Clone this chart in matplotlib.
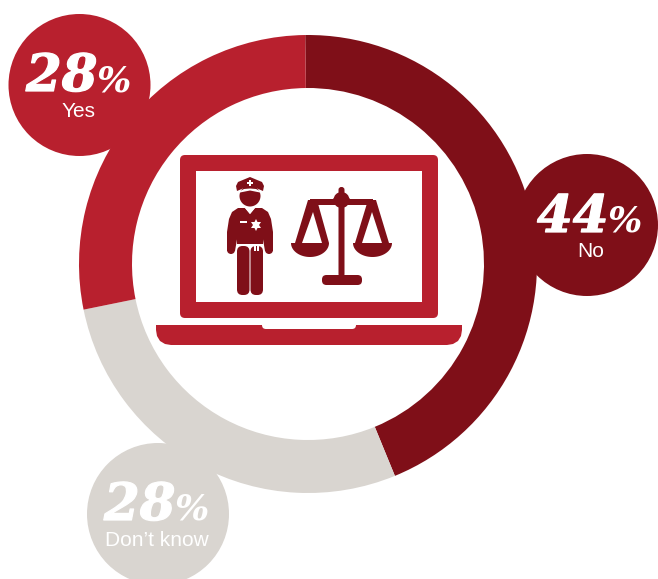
import numpy as np
import matplotlib
matplotlib.use("Agg")
import matplotlib.pyplot as plt
import matplotlib.patheffects as pe
from matplotlib.patches import Circle, FancyBboxPatch, Polygon, Rectangle

# данные
labels = ["No", "Don\u2019t know", "Yes"]
values = [44, 28, 28]
pct_text = ["44", "28", "28"]

RED = "#b8202e"
DARK = "#7f0f18"
GREY = "#d9d5d0"
colors = [DARK, GREY, RED]

# центры кружков с подписями (пиксели картинки)
bubble_xy = [(587, 225), (158, 514), (79.5, 85)]
num_xy = [(537, 232), (104, 520), (26, 91)]
lab_xy = [(591, 257), (157, 546), (79, 117)]

fig = plt.figure(figsize=(6.58, 5.79), dpi=100)
ax = fig.add_axes([0, 0, 1, 1])

# ось y вниз, поэтому counterclock=True даёт обход по часовой на экране
ax.pie(values, colors=colors, center=(308, 264), radius=229, startangle=-90.7,
       counterclock=True, wedgeprops=dict(width=53, linewidth=0))
ax.set_xlim(0, 658)
ax.set_ylim(579, 0)
ax.set_aspect("equal")
ax.axis("off")

# обводка делает цифры потяжелее, как в оригинале
heavy = [pe.withStroke(linewidth=0.9, foreground="white")]
for i in range(3):
    ax.add_patch(Circle(bubble_xy[i], 71, color=colors[i], lw=0, zorder=3))
    ax.text(num_xy[i][0], num_xy[i][1], pct_text[i], color="white", family="DejaVu Serif",
            weight="bold", style="italic", fontsize=37, ha="left", va="baseline", zorder=4,
            path_effects=heavy)
    ax.text(num_xy[i][0] + 71, num_xy[i][1], "%", color="white", family="DejaVu Serif",
            weight="bold", style="italic", fontsize=26, ha="left", va="baseline", zorder=4)
    ax.text(lab_xy[i][0], lab_xy[i][1], labels[i], color="white", family="Liberation Sans",
            fontsize=15, ha="center", va="baseline", zorder=4)


def box(x0, y0, x1, y1, color, r=0, z=6):
    if r:
        ax.add_patch(FancyBboxPatch((x0 + r, y0 + r), x1 - x0 - 2 * r, y1 - y0 - 2 * r,
                                    boxstyle=f"round,pad={r},rounding_size={r}",
                                    fc=color, ec="none", zorder=z))
    else:
        ax.add_patch(Rectangle((x0, y0), x1 - x0, y1 - y0, fc=color, ec="none", zorder=z))


def poly(pts, color, z=6):
    ax.add_patch(Polygon(pts, closed=True, fc=color, ec="none", zorder=z))


def pan(x0, x1, y, depth):
    # чаша весов - половина эллипса
    t = np.linspace(0, np.pi, 40)
    cx = (x0 + x1) / 2
    poly(np.column_stack([cx + (x1 - x0) / 2 * np.cos(t), y + depth * np.sin(t)]), DARK)


# ноутбук
box(180, 155, 438, 318, RED, r=5, z=5)
box(196, 171, 422, 302, "white", z=5)
poly([(156, 325), (462, 325), (462, 330), (461, 336), (458, 341), (453, 344), (447, 345),
      (171, 345), (165, 344), (160, 341), (157, 336), (156, 330)], RED, z=5)
box(262, 320, 356, 329, "white", r=4)
box(262, 320, 356, 325, "white")

# полицейский
ax.add_patch(Circle((250, 196), 10.5, fc=DARK, ec="none", zorder=6))
poly([(236, 186), (238, 182), (250, 177), (262, 182), (264, 186), (263, 191),
      (256, 188), (250, 187.5), (244, 188), (237, 191)], DARK, z=7)
box(247, 182, 253, 184, "white", z=8)
box(249, 180, 251, 186, "white", z=8)
poly([(240, 191), (244, 189), (250, 188.5), (256, 189), (260, 191), (260, 192.5), (250, 190.5), (240, 192.5)], "white", z=7)
# торс
poly([(237, 211), (245, 208), (250, 214), (255, 208), (263, 211), (263, 244), (237, 244)], DARK)
poly([(245, 208), (250, 208), (255, 208), (250, 214)], "white", z=7)
# руки
poly([(238, 208), (245, 208), (240, 222), (235, 251), (227, 251), (227, 232), (229, 219), (232, 212)], DARK)
poly([(262, 208), (255, 208), (260, 222), (265, 251), (273, 251), (273, 232), (271, 219), (268, 212)], DARK)
ax.add_patch(Circle((231, 250), 4, fc=DARK, ec="none", zorder=6))
ax.add_patch(Circle((269, 250), 4, fc=DARK, ec="none", zorder=6))
# ноги
box(237, 246, 249.5, 295, DARK, r=5.5)
box(250.5, 246, 263, 295, DARK, r=5.5)
box(237, 244, 263, 246, "white", z=7)
box(240, 221, 247, 223, "white", z=7)
poly([(256, 219), (257.5, 222), (261, 222), (259, 225), (261, 228), (257.5, 228), (256, 231),
      (254.5, 228), (251, 228), (253, 225), (251, 222), (254.5, 222)], "white", z=7)
box(254, 244, 256, 251, "white", z=7)
box(257, 244, 259, 251, "white", z=7)

# весы
box(338.5, 187, 344.5, 277, DARK, r=2.8)
poly([(341.5, 191), (351, 200), (341.5, 209), (332, 200)], DARK)
ax.add_patch(Circle((341.5, 200), 8, fc=DARK, ec="none", zorder=6))
box(310, 199, 373, 205, DARK)
box(322, 275, 362, 285, DARK, r=4.5)
poly([(308, 200), (317, 200), (329, 243), (322, 243), (313, 212), (302, 243), (295, 243)], DARK)
poly([(368, 200), (376, 200), (389, 243), (382, 243), (372, 212), (362, 243), (355, 243)], DARK)
pan(291, 329, 243, 14)
pan(353, 392, 243, 14)

fig.savefig("out.png", dpi=100)
